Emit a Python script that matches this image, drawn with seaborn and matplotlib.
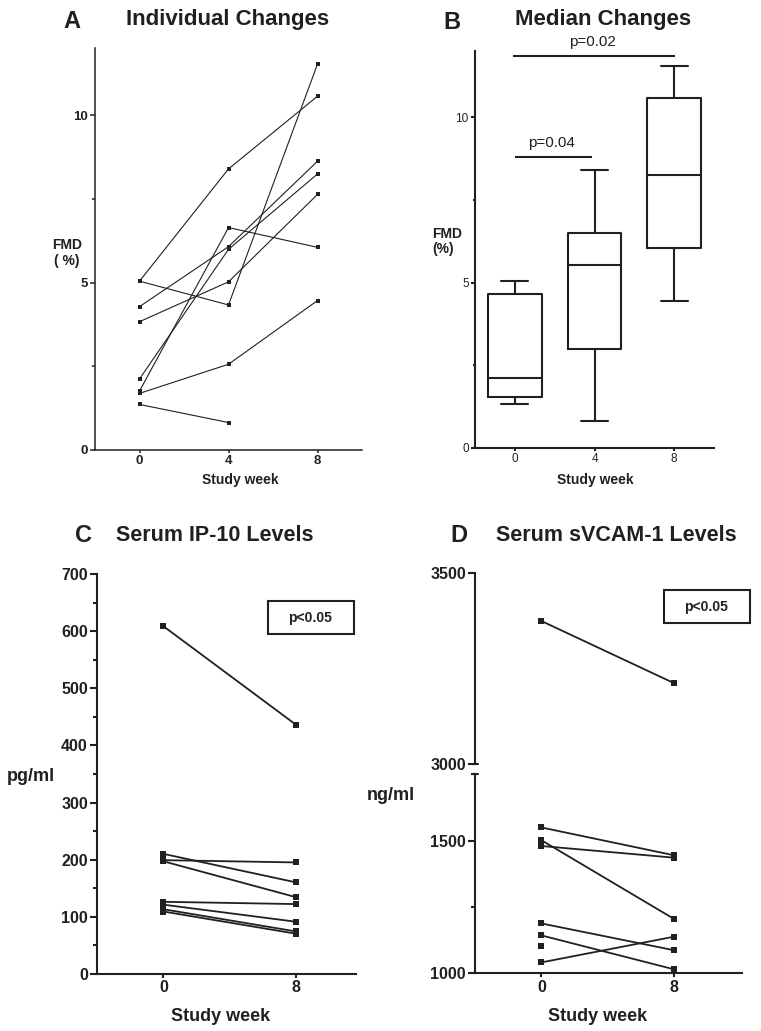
import numpy as np
import pandas as pd
import matplotlib
matplotlib.use('Agg')
import matplotlib.pyplot as plt
from matplotlib.patches import Rectangle
from matplotlib.ticker import MultipleLocator
import seaborn as sns

# panel A - individual FMD (%) per subject
fmd_weeks = [0, 4, 8]
fmd_week0 = [5.04, 5.04, 4.28, 3.83, 2.12, 1.76, 1.69, 1.36]
fmd_week4 = [8.39, 4.33, 6.07, 5.02, 5.99, 6.64, 2.56, 0.82]
fmd_week8 = [10.56, 11.52, 8.62, 7.63, 8.24, 6.05, 4.46, np.nan]

# panel B - box summaries of FMD
box_weeks = [0, 4, 8]
box_low = [1.34, 0.81, 4.45]
box_q1 = [1.54, 2.99, 6.06]
box_med = [2.11, 5.52, 8.24]
box_q3 = [4.66, 6.50, 10.57]
box_high = [5.06, 8.40, 11.54]
sig_from = [0, -0.1]
sig_to = [3.85, 8.05]
sig_y = [8.79, 11.85]
sig_text = ['p=0.04', 'p=0.02']

# panel C - serum IP-10 (pg/ml)
ip10_weeks = [0, 8]
ip10_week0 = [609, 210, 199, 197, 126, 121, 113, 109]
ip10_week8 = [436, 160, 195, 134, 122, 91, 74, 70]

# panel D - serum sVCAM-1 (ng/ml)
vcam_weeks = [0, 8]
vcam_week0 = [3375, 1550, 1480, 1502, 1188, 1143, 1041, 1103]
vcam_week8 = [3212, 1445, 1436, 1205, 1087, 1015, 1138, np.nan]

W, H = 761, 1031
ink = '#231f20'


###############################################################
def toLong(weeks, cols):
    rows = []
    for w, vals in zip(weeks, cols):
        for subj, v in enumerate(vals):
            if not np.isnan(v):
                rows.append({'subject': subj, 'week': w, 'value': v})
    return pd.DataFrame(rows)


def pxAxes(fig, x0, y0, x1, y1):
    return fig.add_axes([x0 / W, 1 - y1 / H, (x1 - x0) / W, (y1 - y0) / H])


def ftext(fig, x, y, s, **kw):
    return fig.text(x / W, 1 - y / H, s, color=ink, **kw)


def pxBox(fig, x0, y0, x1, y1, lw=1.5):
    fig.add_artist(Rectangle((x0 / W, 1 - y1 / H), (x1 - x0) / W, (y1 - y0) / H,
                             transform=fig.transFigure, fill=False,
                             edgecolor=ink, linewidth=lw))


def styleAxes(ax, size, bold, spine_w, tick_len):
    sns.despine(ax=ax)
    for sp in ax.spines.values():
        sp.set_linewidth(spine_w)
        sp.set_color(ink)
    ax.tick_params(which='major', length=tick_len, width=spine_w, color=ink,
                   labelsize=size, labelcolor=ink, pad=1.5)
    ax.tick_params(which='minor', length=tick_len * 0.6, width=spine_w, color=ink)
    plt.setp(ax.get_xticklabels() + ax.get_yticklabels(),
             fontweight='bold' if bold else 'normal')
    ax.set_xlabel('')
    ax.set_ylabel('')


sns.set_theme(style='ticks')
plt.rcParams['font.family'] = ['Liberation Sans', 'DejaVu Sans']

fig = plt.figure(figsize=(W / 100, H / 100), dpi=100)
fig.patch.set_facecolor('white')

# ---------------- A ----------------
axA = pxAxes(fig, 95, 48, 362, 450)
dfA = toLong(fmd_weeks, [fmd_week0, fmd_week4, fmd_week8])
sns.lineplot(data=dfA, x='week', y='value', units='subject', estimator=None,
             color=ink, lw=0.8, marker='s', markersize=2.6, markeredgewidth=0,
             ax=axA)
axA.set_xlim(-2, 10)
axA.set_ylim(0, 12)
axA.set_xticks(fmd_weeks)
axA.set_yticks([0, 5, 10])
axA.yaxis.set_minor_locator(MultipleLocator(2.5))
styleAxes(axA, 9.5, True, 1.1, 3.5)
axA.tick_params(axis='x', length=2)
axA.text(-0.105, 0.49, 'FMD\n( %)', transform=axA.transAxes, ha='center',
         va='center', fontsize=10, fontweight='bold', color=ink, linespacing=1.1)
ftext(fig, 240.7, 484, 'Study week', ha='center', va='baseline', fontsize=10, fontweight='bold')
ftext(fig, 72, 28, 'A', ha='center', va='baseline', fontsize=17, fontweight='bold')
ftext(fig, 228, 25, 'Individual Changes', ha='center', va='baseline', fontsize=16, fontweight='bold')

# ---------------- B ----------------
axB = pxAxes(fig, 475, 51, 714, 448)
stats = []
for lo, q1, md, q3, hi in zip(box_low, box_q1, box_med, box_q3, box_high):
    stats.append({'whislo': lo, 'q1': q1, 'med': md, 'q3': q3, 'whishi': hi, 'fliers': []})
lineB = dict(color=ink, linewidth=1.5)
axB.bxp(stats, positions=box_weeks, widths=2.7, showfliers=False,
        boxprops=lineB, medianprops=lineB, whiskerprops=lineB, capprops=lineB)
for x0, x1, y, s in zip(sig_from, sig_to, sig_y, sig_text):
    axB.plot([x0, x1], [y, y], color=ink, lw=1.5, clip_on=False, solid_capstyle='butt')
    axB.text((x0 + x1) / 2 - 0.1, y + 0.22, s, ha='center', va='bottom',
             fontsize=11, color=ink, clip_on=False)
axB.set_xlim(-2, 10)
axB.set_ylim(0, 12)
axB.set_xticks(box_weeks)
axB.set_xticklabels([str(w) for w in box_weeks])
axB.set_yticks([0, 5, 10])
axB.yaxis.set_minor_locator(MultipleLocator(2.5))
styleAxes(axB, 8.5, False, 1.5, 3.0)
axB.tick_params(axis='x', length=2)
axB.text(-0.18, 0.52, 'FMD\n(%)', transform=axB.transAxes, ha='left',
         va='center', fontsize=10, fontweight='bold', color=ink, linespacing=1.1)
ftext(fig, 595, 484, 'Study week', ha='center', va='baseline', fontsize=10, fontweight='bold')
ftext(fig, 452, 29, 'B', ha='center', va='baseline', fontsize=17, fontweight='bold')
ftext(fig, 603, 25, 'Median Changes', ha='center', va='baseline', fontsize=16, fontweight='bold')

# ---------------- C ----------------
axC = pxAxes(fig, 97, 574.3, 356, 973.7)
dfC = toLong(ip10_weeks, [ip10_week0, ip10_week8])
sns.lineplot(data=dfC, x='week', y='value', units='subject', estimator=None,
             color=ink, lw=1.3, marker='s', markersize=4, markeredgewidth=0,
             ax=axC)
axC.set_xlim(-4, 11.6)
axC.set_ylim(0, 700)
axC.set_xticks(ip10_weeks)
axC.set_yticks(range(0, 701, 100))
axC.yaxis.set_minor_locator(MultipleLocator(50))
styleAxes(axC, 11.5, True, 1.5, 5)
axC.tick_params(axis='x', length=3)
axC.text(-0.255, 0.493, 'pg/ml', transform=axC.transAxes, ha='center',
         va='center', fontsize=13, fontweight='bold', color=ink)
ftext(fig, 221, 1020.7, 'Study week', ha='center', va='baseline', fontsize=13, fontweight='bold')
ftext(fig, 84, 541.7, 'C', ha='center', va='baseline', fontsize=17, fontweight='bold')
ftext(fig, 215, 540.7, 'Serum IP-10 Levels', ha='center', va='baseline', fontsize=15.5, fontweight='bold')
pxBox(fig, 268.3, 601, 354, 634.3)
ftext(fig, 310, 618, 'p<0.05', ha='center', va='center', fontsize=10, fontweight='bold')

# ---------------- D (broken axis) ----------------
axDu = pxAxes(fig, 475, 573.3, 742, 764)
axDl = pxAxes(fig, 475, 774.4, 742, 973.3)
dfD = toLong(vcam_weeks, [vcam_week0, vcam_week8])
for ax in (axDu, axDl):
    sns.lineplot(data=dfD, x='week', y='value', units='subject', estimator=None,
                 color=ink, lw=1.3, marker='s', markersize=4, markeredgewidth=0,
                 ax=ax)
    ax.set_xlim(-4, 12.1)
axDu.set_ylim(3000, 3500)
axDu.set_yticks([3000, 3500])
axDl.set_ylim(1000, 1750)
axDl.set_yticks([1000, 1500])
axDl.yaxis.set_minor_locator(MultipleLocator(250))
axDl.set_xticks(vcam_weeks)
styleAxes(axDu, 11.5, True, 1.5, 5)
styleAxes(axDl, 11.5, True, 1.5, 5)
axDl.tick_params(axis='x', length=3)
axDu.spines['bottom'].set_visible(False)
axDu.tick_params(axis='x', bottom=False, labelbottom=False)
axDu.plot([-0.012, 0.012], [0, 0], transform=axDu.transAxes, color=ink, lw=1.5, clip_on=False)
axDl.plot([-0.012, 0.012], [1, 1], transform=axDl.transAxes, color=ink, lw=1.5, clip_on=False)
ftext(fig, 391, 796, 'ng/ml', ha='center', va='center', fontsize=13, fontweight='bold')
ftext(fig, 598, 1020.7, 'Study week', ha='center', va='baseline', fontsize=13, fontweight='bold')
ftext(fig, 459, 542.3, 'D', ha='center', va='baseline', fontsize=17, fontweight='bold')
ftext(fig, 616, 540.7, 'Serum sVCAM-1 Levels', ha='center', va='baseline', fontsize=15.5, fontweight='bold')
pxBox(fig, 664.3, 590, 750, 623.3)
ftext(fig, 706, 606.5, 'p<0.05', ha='center', va='center', fontsize=10, fontweight='bold')

fig.savefig('out.png', dpi=100, facecolor='white')
